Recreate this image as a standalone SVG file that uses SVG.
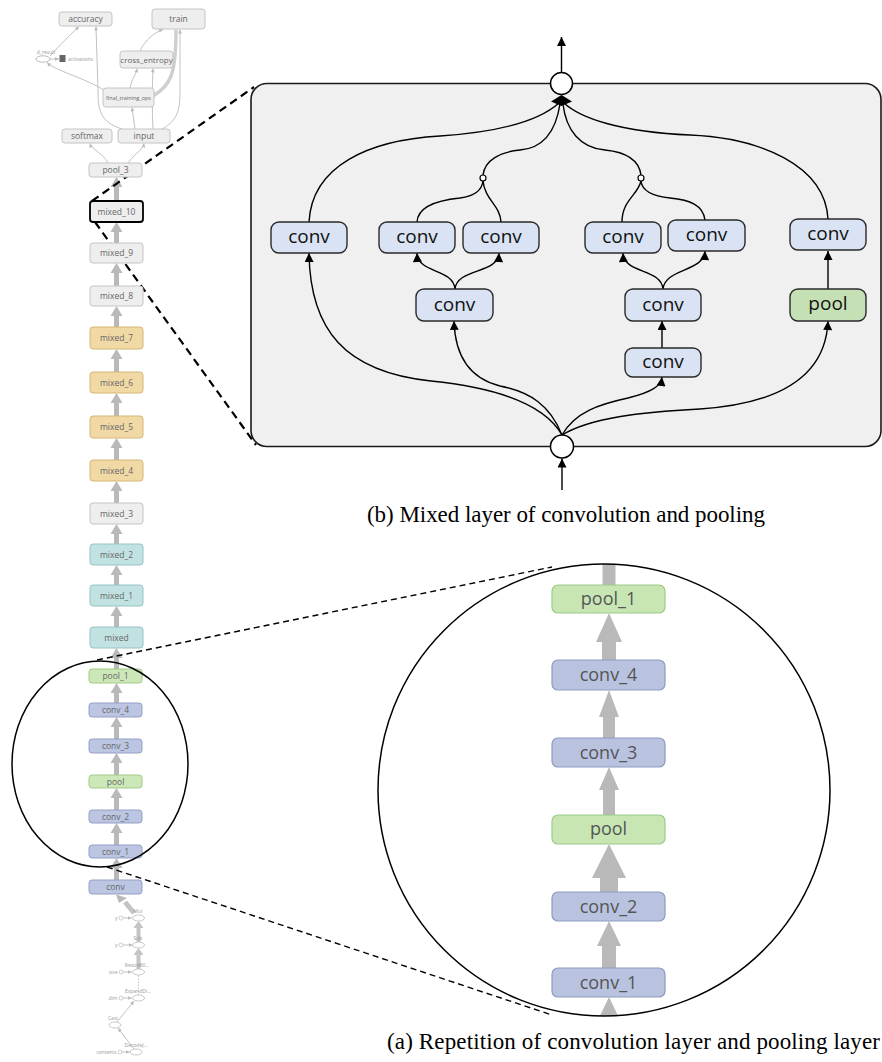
<svg xmlns="http://www.w3.org/2000/svg" width="882" height="1062" viewBox="0 0 882 1062">
<defs>
<style>
.tb{font-family:"Open Sans","Noto Sans",sans-serif;fill:#666;font-size:8.5px;text-anchor:middle}
.sm{font-family:"Open Sans","Noto Sans",sans-serif;fill:#999;font-size:5px}
.g{fill:#eeeeee;stroke:#c4c4c4;stroke-width:1}
.tan{fill:#f1d9a6;stroke:#d4b679;stroke-width:1}
.teal{fill:#c2e2e2;stroke:#96c4c4;stroke-width:1}
.grn{fill:#cde8b8;stroke:#a3ca88;stroke-width:1}
.blu{fill:#bcc6e2;stroke:#95a1c6;stroke-width:1}
.ga{fill:#b9b9b9}
.thin{fill:none;stroke:#c2c2c2;stroke-width:1}
.bn{fill:#dae3f3;stroke:#2a2a2a;stroke-width:1.4}
.bp{fill:#c5e0b4;stroke:#2a2a2a;stroke-width:1.4}
.bt{font-family:"Open Sans","Noto Sans",sans-serif;font-size:19px;fill:#111;text-anchor:middle}
.ct{font-family:"Open Sans","Noto Sans",sans-serif;font-size:18px;fill:#555;text-anchor:middle}
.cb{fill:#b9c3e0;stroke:#8e9bbf;stroke-width:1.2}
.cg{fill:#c8e6b4;stroke:#9ccb85;stroke-width:1.2}
.cap{font-family:"Liberation Serif","Times New Roman",serif;font-size:23px;fill:#000}
.edge{fill:none;stroke:#000;stroke-width:1.4}
.dash1{fill:none;stroke:#000;stroke-width:2.2;stroke-dasharray:8 5}
.dash2{fill:none;stroke:#000;stroke-width:1.4;stroke-dasharray:6 4}
</style>
<marker id="ah" viewBox="0 0 10 10" refX="10" refY="5" markerWidth="10" markerHeight="9" markerUnits="userSpaceOnUse" orient="auto"><path d="M0,0 L10,5 L0,10 Z" fill="#000"/></marker>
<marker id="sa" viewBox="0 0 10 10" refX="10" refY="5" markerWidth="4" markerHeight="4" markerUnits="userSpaceOnUse" orient="auto"><path d="M0,0 L10,5 L0,10 Z" fill="#bbb"/></marker>
<clipPath id="cc"><circle cx="604" cy="790" r="226"/></clipPath>
</defs>
<rect width="882" height="1062" fill="#fff"/>

<!-- right mixed-layer box -->
<g id="mixed_box">
<rect x="251" y="83.5" width="630" height="363" rx="16" fill="#f0f0f0" stroke="#1a1a1a" stroke-width="1.6"/>
</g>

<!-- connectors -->
<g id="connectors">
<!-- top-left graph thin lines -->
<path class="thin" d="M108,163 C102,152 92,150 90,143.5" marker-end="url(#sa)"/>
<path class="thin" d="M128,163 C135,153 143,150 144,143.5" marker-end="url(#sa)"/>
<path class="thin" d="M122,129 C100,122 98,110 98,90 L96,26.5" marker-end="url(#sa)"/>
<path class="thin" d="M135,129 L132,107.5" marker-end="url(#sa)"/>
<path class="thin" d="M153,129 C152,110 152,90 153,68.5" marker-end="url(#sa)"/>
<path class="thin" d="M162,129 C178,120 180,110 180,90 L180,29.5" marker-end="url(#sa)"/>
<path d="M153,96 C170,86 176,76 176,29.5" fill="none" stroke="#cfcfcf" stroke-width="3.5"/>
<path class="thin" d="M130,88 C132,78 136,75 137,68.5" marker-end="url(#sa)"/>
<path class="thin" d="M104,90 C80,76 56,71 47,62.5" marker-end="url(#sa)"/>
<path class="thin" d="M50,56 C60,45 70,35 79,26.5" marker-end="url(#sa)"/>
<path class="thin" d="M140,51 C145,40 155,32 163,29.5" marker-end="url(#sa)"/>
<path class="thin" d="M50,59 L59,59" marker-end="url(#sa)"/>

<!-- left column gray arrows -->
<path class="ga" d="M114,201 V187 H110.5 L116.5,177 L122.5,187 H119 V201 Z"/>
<path class="ga" d="M114,243 V232 H110.5 L116.5,222 L122.5,232 H119 V243 Z"/>
<path class="ga" d="M114,286 V273 H110.5 L116.5,263 L122.5,273 H119 V286 Z"/>
<path class="ga" d="M114,327 V316 H110.5 L116.5,306 L122.5,316 H119 V327 Z"/>
<path class="ga" d="M114,372 V359 H110.5 L116.5,349 L122.5,359 H119 V372 Z"/>
<path class="ga" d="M114,416 V403 H110.5 L116.5,393 L122.5,403 H119 V416 Z"/>
<path class="ga" d="M114,460 V448 H110.5 L116.5,438 L122.5,448 H119 V460 Z"/>
<path class="ga" d="M114,503 V491 H110.5 L116.5,481 L122.5,491 H119 V503 Z"/>
<path class="ga" d="M114,544 V534 H110.5 L116.5,524 L122.5,534 H119 V544 Z"/>
<path class="ga" d="M114,585 V575 H110.5 L116.5,565 L122.5,575 H119 V585 Z"/>
<path class="ga" d="M114,627 V616 H110.5 L116.5,606 L122.5,616 H119 V627 Z"/>
<path class="ga" d="M114,669 V658 H110.5 L116.5,648 L122.5,658 H119 V669 Z"/>
<path class="ga" d="M114,703 V693 H110.5 L116.5,683 L122.5,693 H119 V703 Z"/>
<path class="ga" d="M114,739 V727 H110.5 L116.5,717 L122.5,727 H119 V739 Z"/>
<path class="ga" d="M114,775 V763 H110.5 L116.5,753 L122.5,763 H119 V775 Z"/>
<path class="ga" d="M114,810 V798 H110.5 L116.5,788 L122.5,798 H119 V810 Z"/>
<path class="ga" d="M114,845 V833 H110.5 L116.5,823 L122.5,833 H119 V845 Z"/>
<path class="ga" d="M114,880 V868 H110.5 L116.5,858 L122.5,868 H119 V880 Z"/>

<!-- bottom-left small graph -->
<path d="M134,913 L125,902" stroke="#c4c4c4" stroke-width="5" fill="none"/>
<path class="ga" d="M119,903 L116,894.5 L127,898 Z" fill="#c4c4c4"/>
<path d="M136.5,942 V928 H133.5 L138.5,921 L143.5,928 H140.5 V942 Z" fill="#c4c4c4"/>
<path d="M136.5,969 V955 H133.5 L138.5,948 L143.5,955 H140.5 V969 Z" fill="#c4c4c4"/>
<path d="M138.5,995 V975" stroke="#c4c4c4" stroke-width="1" stroke-dasharray="1.5 1.5" fill="none"/>
<path class="thin" d="M117,1022 L134,1001" marker-end="url(#sa)"/>
<path class="thin" d="M134,1049 L118,1028" marker-end="url(#sa)"/>
<path class="thin" d="M123,918 L131.5,918" marker-end="url(#sa)"/>
<path class="thin" d="M123,945 L132.5,945" marker-end="url(#sa)"/>
<path class="thin" d="M123,972 L131.5,972" marker-end="url(#sa)"/>
<path class="thin" d="M123,998 L131.5,998" marker-end="url(#sa)"/>
<path class="thin" d="M122,1052 L129.5,1052" marker-end="url(#sa)"/>

<!-- mixed layer connectors -->
<path class="edge" d="M562,435 C545,405 500,388 431,381 C345,372 310,330 309,253" marker-end="url(#ah)"/>
<path class="edge" d="M562,435 C550,405 530,392 500,386 C468,378 455,355 454,321" marker-end="url(#ah)"/>
<path class="edge" d="M562,435 C575,412 600,404 628,398 C652,392 661,386 662,377" marker-end="url(#ah)"/>
<path class="edge" d="M562,435 C590,418 640,412 700,409 C790,403 826,370 828,321" marker-end="url(#ah)"/>
<path class="edge" d="M455,289 C453,268 418,274 417,253" marker-end="url(#ah)"/>
<path class="edge" d="M455,289 C457,268 498,274 499,253" marker-end="url(#ah)"/>
<path class="edge" d="M663,289 C661,268 624,274 623,253" marker-end="url(#ah)"/>
<path class="edge" d="M663,289 C665,268 704,272 705,251" marker-end="url(#ah)"/>
<path class="edge" d="M662,348 L662,321" marker-end="url(#ah)"/>
<path class="edge" d="M828,289 L828,251" marker-end="url(#ah)"/>
<path class="edge" d="M309,222 C312,165 370,140 440,136 C500,132 540,120 559,103"/>
<path class="edge" d="M417,222 C418,205 440,200 460,198 C475,196 482,190 483,181"/>
<path class="edge" d="M501,222 C500,205 485,200 483,181"/>
<path class="edge" d="M483,175 C485,160 500,152 520,150 C545,148 556,130 560,104"/>
<path class="edge" d="M622,222 C622,200 638,195 641,181"/>
<path class="edge" d="M705,220 C703,205 690,200 670,198 C650,196 642,190 641,181"/>
<path class="edge" d="M641,175 C639,160 625,152 605,150 C580,148 566,130 563,104"/>
<path class="edge" d="M828,219 C825,165 760,138 690,135 C620,132 580,118 564,103"/>
<path class="edge" d="M561.5,72 V37" marker-end="url(#ah)"/>
<path class="edge" d="M562,490 V458.5" marker-end="url(#ah)"/>
<polygon points="561.5,95 572,101.5 561.5,106 551,101.5" fill="#000"/>

<!-- zoom dashed lines -->
<path class="dash1" d="M92,201 L254,87"/>
<path class="dash1" d="M95,222 L256,445"/>
<path class="dash2" d="M97,660 L552,567"/>
<path class="dash2" d="M107,867 L552,1015"/>
</g>

<!-- top-left nodes -->
<g id="accuracy"><rect class="g" x="59" y="12" width="53" height="14" rx="3"/><text class="tb" x="85.5" y="22">accuracy</text></g>
<g id="train"><rect class="g" x="152" y="9" width="53" height="20" rx="3"/><text class="tb" x="178.5" y="22">train</text></g>
<g id="cross_entropy"><rect class="g" x="120" y="51" width="53" height="17" rx="3"/><text class="tb" x="146.5" y="62.5" style="font-size:8px">cross_entropy</text></g>
<g id="final_training_ops"><rect class="g" x="103" y="88" width="51" height="19" rx="3"/><text class="tb" x="128.5" y="99.5" style="font-size:5.5px">final_training_ops</text></g>
<g id="d_result"><ellipse cx="43" cy="59" rx="7" ry="3.2" fill="#fff" stroke="#aaa" stroke-width="0.8"/><text class="sm" x="46" y="53.5" text-anchor="middle">d_result</text></g>
<g id="activations"><rect x="59.5" y="55" width="6" height="7" fill="#666"/><text class="sm" x="68" y="60.5">activations</text></g>
<g id="softmax"><rect class="g" x="62" y="129" width="50" height="14" rx="3"/><text class="tb" x="87" y="139">softmax</text></g>
<g id="input"><rect class="g" x="118" y="129" width="52" height="14" rx="3"/><text class="tb" x="144" y="139">input</text></g>
<g id="pool_3"><rect class="g" x="89" y="163" width="53" height="14" rx="3"/><text class="tb" x="115.5" y="173">pool_3</text></g>

<!-- left column -->
<g id="mixed_10"><rect x="90" y="201" width="53" height="21" rx="3" fill="#eeeeee" stroke="#000" stroke-width="1.8"/><text class="tb" x="116.5" y="214.5">mixed_10</text></g>
<g id="mixed_9"><rect class="g" x="90" y="243" width="53" height="20" rx="3"/><text class="tb" x="116.5" y="256">mixed_9</text></g>
<g id="mixed_8"><rect class="g" x="90" y="286" width="53" height="20" rx="3"/><text class="tb" x="116.5" y="299">mixed_8</text></g>
<g id="mixed_7"><rect class="tan" x="90" y="327" width="53" height="22" rx="3"/><text class="tb" x="116.5" y="341">mixed_7</text></g>
<g id="mixed_6"><rect class="tan" x="90" y="372" width="53" height="21" rx="3"/><text class="tb" x="116.5" y="385.5">mixed_6</text></g>
<g id="mixed_5"><rect class="tan" x="90" y="416" width="53" height="22" rx="3"/><text class="tb" x="116.5" y="430">mixed_5</text></g>
<g id="mixed_4"><rect class="tan" x="90" y="460" width="53" height="21" rx="3"/><text class="tb" x="116.5" y="473.5">mixed_4</text></g>
<g id="mixed_3"><rect class="g" x="90" y="503" width="53" height="21" rx="3"/><text class="tb" x="116.5" y="516.5">mixed_3</text></g>
<g id="mixed_2"><rect class="teal" x="90" y="544" width="53" height="21" rx="3"/><text class="tb" x="116.5" y="557.5">mixed_2</text></g>
<g id="mixed_1"><rect class="teal" x="90" y="585" width="53" height="21" rx="3"/><text class="tb" x="116.5" y="598.5">mixed_1</text></g>
<g id="mixed"><rect class="teal" x="90" y="627" width="53" height="21" rx="3"/><text class="tb" x="116.5" y="640.5">mixed</text></g>
<g id="pool_1_s"><rect class="grn" x="89" y="669" width="53" height="14" rx="3"/><text class="tb" x="115.5" y="679">pool_1</text></g>
<g id="conv_4_s"><rect class="blu" x="89" y="703" width="53" height="14" rx="3"/><text class="tb" x="115.5" y="713">conv_4</text></g>
<g id="conv_3_s"><rect class="blu" x="89" y="739" width="53" height="14" rx="3"/><text class="tb" x="115.5" y="749">conv_3</text></g>
<g id="pool_s"><rect class="grn" x="89" y="775" width="53" height="13" rx="3"/><text class="tb" x="115.5" y="784.5">pool</text></g>
<g id="conv_2_s"><rect class="blu" x="89" y="810" width="53" height="13" rx="3"/><text class="tb" x="115.5" y="819.5">conv_2</text></g>
<g id="conv_1_s"><rect class="blu" x="89" y="845" width="53" height="13" rx="3"/><text class="tb" x="115.5" y="854.5">conv_1</text></g>
<g id="conv_s"><rect class="blu" x="89" y="880" width="53" height="14" rx="3"/><text class="tb" x="115.5" y="890">conv</text></g>

<!-- bottom-left small nodes -->
<g id="Mul"><ellipse cx="138.5" cy="918" rx="6" ry="3" fill="#fff" stroke="#bbb" stroke-width="0.8"/><text class="sm" x="138" y="912.5" text-anchor="middle">Mul</text><circle cx="121" cy="918" r="2" fill="#fff" stroke="#bbb" stroke-width="0.7"/><text class="sm" x="117.5" y="919.5" text-anchor="end">y</text></g>
<g id="Sub"><ellipse cx="138.5" cy="945" rx="6" ry="3" fill="#fff" stroke="#bbb" stroke-width="0.8"/><text class="sm" x="138" y="939.5" text-anchor="middle">Sub</text><circle cx="121" cy="945" r="2" fill="#fff" stroke="#bbb" stroke-width="0.7"/><text class="sm" x="117.5" y="946.5" text-anchor="end">y</text></g>
<g id="ResizeBil"><ellipse cx="138.5" cy="972" rx="6" ry="3" fill="#fff" stroke="#bbb" stroke-width="0.8"/><text class="sm" x="137" y="966.5" text-anchor="middle">ResizeBil...</text><circle cx="121" cy="972" r="2" fill="#fff" stroke="#bbb" stroke-width="0.7"/><text class="sm" x="117.5" y="973.5" text-anchor="end">size</text></g>
<g id="ExpandDi"><ellipse cx="138.5" cy="998" rx="6" ry="3" fill="#fff" stroke="#bbb" stroke-width="0.8"/><text class="sm" x="138" y="992.5" text-anchor="middle">ExpandDi...</text><circle cx="121" cy="998" r="2" fill="#fff" stroke="#bbb" stroke-width="0.7"/><text class="sm" x="117.5" y="999.5" text-anchor="end">dim</text></g>
<g id="Cast"><ellipse cx="115" cy="1025" rx="6" ry="3" fill="#fff" stroke="#bbb" stroke-width="0.8"/><text class="sm" x="113" y="1019.5" text-anchor="middle">Cast</text></g>
<g id="DecodeJ"><ellipse cx="136" cy="1052" rx="6" ry="3" fill="#fff" stroke="#bbb" stroke-width="0.8"/><text class="sm" x="136" y="1046.5" text-anchor="middle">DecodeJ...</text><circle cx="120" cy="1052" r="2" fill="#fff" stroke="#bbb" stroke-width="0.7"/><text class="sm" x="116.5" y="1053.5" text-anchor="end">contents</text></g>

<!-- left ellipse highlight -->
<g id="left_lens"><ellipse cx="100" cy="764" rx="88" ry="103" fill="none" stroke="#000" stroke-width="1.5"/></g>

<!-- right zoom circle -->
<g id="zoom_circle">
<circle cx="604" cy="790" r="226" fill="#fff"/>
<g clip-path="url(#cc)">
<rect class="ga" x="602.5" y="555" width="13" height="31"/>
<path class="ga" d="M602,660 V642 H596 L609,613 L622,642 H616 V660 Z"/>
<path class="ga" d="M603,738 V717 H599 L609,690 L619,717 H615 V738 Z"/>
<path class="ga" d="M603,815 V790 H599 L609,767 L619,790 H615 V815 Z"/>
<path class="ga" d="M600,892 V878 H592 L609,844 L626,878 H618 V892 Z"/>
<path class="ga" d="M602,968 V946 H597 L609,921 L621,946 H616 V968 Z"/>
<path class="ga" d="M602,1030 V1022 H597 L609,997 L621,1022 H616 V1030 Z"/>
</g>
<circle cx="604" cy="790" r="226" fill="none" stroke="#000" stroke-width="1.5"/>
</g>
<g id="z_pool_1"><rect class="cg" x="552" y="585" width="113" height="28" rx="6"/><text class="ct" x="608.5" y="605">pool_1</text></g>
<g id="z_conv_4"><rect class="cb" x="552" y="660" width="113" height="30" rx="6"/><text class="ct" x="608.5" y="681">conv_4</text></g>
<g id="z_conv_3"><rect class="cb" x="552" y="738" width="113" height="29" rx="6"/><text class="ct" x="608.5" y="759">conv_3</text></g>
<g id="z_pool"><rect class="cg" x="552" y="815" width="113" height="29" rx="6"/><text class="ct" x="608.5" y="835">pool</text></g>
<g id="z_conv_2"><rect class="cb" x="552" y="892" width="113" height="29" rx="6"/><text class="ct" x="608.5" y="913">conv_2</text></g>
<g id="z_conv_1"><rect class="cb" x="552" y="968" width="113" height="29" rx="6"/><text class="ct" x="608.5" y="989">conv_1</text></g>

<!-- mixed layer nodes -->
<g id="b_conv_a"><rect class="bn" x="271" y="222" width="76" height="31" rx="8"/><text class="bt" x="309" y="243">conv</text></g>
<g id="b_conv_b"><rect class="bn" x="379" y="222" width="76" height="31" rx="8"/><text class="bt" x="417" y="243">conv</text></g>
<g id="b_conv_c"><rect class="bn" x="463" y="222" width="76" height="31" rx="8"/><text class="bt" x="501" y="243">conv</text></g>
<g id="b_conv_d"><rect class="bn" x="585" y="222" width="76" height="31" rx="8"/><text class="bt" x="623" y="243">conv</text></g>
<g id="b_conv_e"><rect class="bn" x="668" y="220" width="77" height="31" rx="8"/><text class="bt" x="706.5" y="241">conv</text></g>
<g id="b_conv_f"><rect class="bn" x="790" y="219" width="76" height="31" rx="8"/><text class="bt" x="828" y="240">conv</text></g>
<g id="b_conv_g"><rect class="bn" x="416" y="289" width="77" height="32" rx="8"/><text class="bt" x="454.5" y="310.5">conv</text></g>
<g id="b_conv_h"><rect class="bn" x="625" y="289" width="76" height="32" rx="8"/><text class="bt" x="663" y="310.5">conv</text></g>
<g id="b_conv_i"><rect class="bn" x="625" y="348" width="76" height="29" rx="8"/><text class="bt" x="663" y="368">conv</text></g>
<g id="b_pool"><rect class="bp" x="790" y="289" width="76" height="32" rx="8"/><text class="bt" x="828" y="310">pool</text></g>
<g id="b_junctions"><circle cx="483" cy="178" r="3" fill="#fff" stroke="#000" stroke-width="1.2"/><circle cx="641" cy="178" r="3" fill="#fff" stroke="#000" stroke-width="1.2"/></g>
<g id="b_out"><circle cx="561.5" cy="83.5" r="11" fill="#fff" stroke="#000" stroke-width="1.5"/></g>
<g id="b_in"><circle cx="562" cy="446.5" r="11.5" fill="#fff" stroke="#000" stroke-width="1.5"/></g>

<!-- captions -->
<text class="cap" x="367" y="522" textLength="398" lengthAdjust="spacing">(b) Mixed layer of convolution and pooling</text>
<text class="cap" x="387" y="1049" textLength="493" lengthAdjust="spacing">(a) Repetition of convolution layer and pooling layer</text>
</svg>
